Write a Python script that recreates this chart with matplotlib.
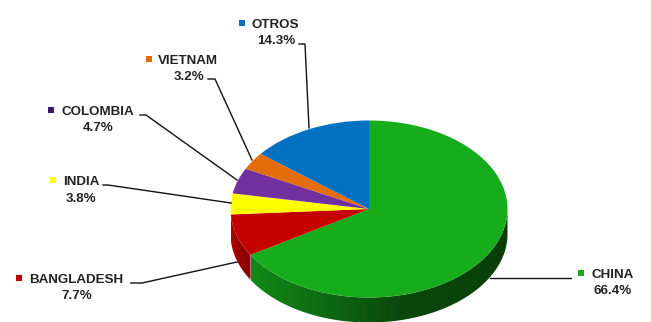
import numpy as np
import matplotlib
matplotlib.use("Agg")
import matplotlib.pyplot as plt
from matplotlib.patches import Polygon

plt.rcParams['font.family'] = ['Liberation Sans', 'DejaVu Sans']

labels = ["CHINA", "BANGLADESH", "INDIA", "COLOMBIA", "VIETNAM", "OTROS"]
values = [66.4, 7.7, 3.8, 4.7, 3.2, 14.3]
colors = ["#16ac1c", "#c40000", "#ffff00", "#7030a0", "#e46c0a", "#0070c0"]
marker_colors = ["#16ac1c", "#c00000", "#ffff00", "#3f1a5f", "#e46c0a", "#0070c0"]

W, H = 651, 322
cx, cy, rx, ry, depth = 369, 209, 138.5, 88.5, 25


# pixel helpers, y measured from the top of the picture
def px(x):
    return (x - cx) / rx


def py(y):
    return (cy - y) / ry


fig = plt.figure(figsize=(W / 100, H / 100), dpi=100)
ax = fig.add_axes([0, 0, 1, 1])

wedges, _ = ax.pie(values, colors=colors, startangle=90, counterclock=False,
                   wedgeprops=dict(linewidth=0, zorder=3))

# side wall of the pie, only the slices that face the viewer
d = depth / ry
for w, base in zip(wedges, colors):
    start = w.theta1 % 360
    end = start + (w.theta2 - w.theta1)
    lo, hi = max(start, 180), min(end, 360)
    # the yellow sliver does not show on the wall, red takes it
    if hi - lo < 5:
        continue
    if lo - 180 < 5:
        lo = 180
    th = np.radians(np.linspace(lo, hi, 200))
    xs, ys = np.cos(th), np.sin(th)
    # shade runs left to right across the wall, darker to the right
    gx = np.linspace(xs.min(), xs.max(), 200)
    if base == "#c40000":
        f = np.interp(gx, [px(231), px(250)], [0.88, 0.66])
    else:
        f = np.interp(gx, [px(250), px(330), px(400), px(510)], [0.80, 0.60, 0.42, 0.36])
    shade = f[None, :, None] * np.array(matplotlib.colors.to_rgb(base))
    im = ax.imshow(shade, extent=(xs.min(), xs.max(), -2, 2), aspect='auto', zorder=2)
    im.set_clip_path(Polygon(np.c_[np.r_[xs, xs[::-1]], np.r_[ys, ys[::-1] - d]], transform=ax.transData))

ax.set_aspect('auto')
ax.set_xlim(px(0), px(W))
ax.set_ylim(py(H), py(0))
ax.axis('off')

# leader lines
leaders = [
    [(490, 278), (571, 278)],
    [(237, 262), (142, 283), (131, 283)],
    [(231, 203), (108, 185), (103, 185)],
    [(237, 180), (146, 115), (140, 115)],
    [(252, 160), (215, 79), (208, 79)],
    [(309, 128), (305, 44), (299, 44)],
]
for pts in leaders:
    p = np.array(pts, dtype=float)
    ax.plot(px(p[:, 0]), py(p[:, 1]), color="#111111", lw=1.0, zorder=4)

# label text: name, percent, marker
name_pos = [(592, 275), (29, 280), (63, 182), (62, 112), (158, 61), (252, 25)]
pct_pos = [(613, 291), (77, 296), (81, 199), (98, 128), (189, 77), (276, 41)]
marker_pos = [(581, 273), (19, 278), (53, 180), (51, 110), (149, 59), (242, 23)]

for i in range(len(labels)):
    ax.text(px(name_pos[i][0]), py(name_pos[i][1]), labels[i], fontsize=9.6, fontweight='bold',
            color="#222222", ha='left', va='center', zorder=5)
    ax.text(px(pct_pos[i][0]), py(pct_pos[i][1]), "%.1f%%" % values[i], fontsize=9.6, fontweight='bold',
            color="#222222", ha='center', va='center', zorder=5)
    ax.plot(px(marker_pos[i][0]), py(marker_pos[i][1]), marker='s', ms=5.0, mew=0,
            color=marker_colors[i], zorder=5)

fig.savefig("out.png", dpi=100, facecolor="white")
